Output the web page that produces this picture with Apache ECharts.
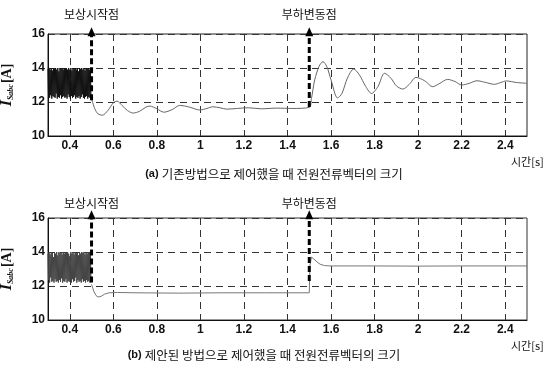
<!DOCTYPE html>
<html>
<head>
<meta charset="utf-8">
<script src="https://cdn.jsdelivr.net/npm/echarts@6/dist/echarts.min.js"></script>
<style>
  html, body { margin: 0; padding: 0; background: #fff; }
  #chart { width: 550px; height: 369px; }
</style>
</head>
<body>
<div id="chart"></div>
<script>
// Axis ranges and tick values
const xMin = 0.3, xMax = 2.5;
const xTicks = [0.4, 0.6, 0.8, 1, 1.2, 1.4, 1.6, 1.8, 2, 2.2, 2.4];
const yMin = 10, yMax = 16, yStep = 2;

// Switching ripple before compensation starts (sampled every rippleStep seconds from rippleStart)
const rippleStart = 0.3, rippleStep = 0.0025;
const rippleA = [13.95,12.3,14.0,12.25,13.9,12.4,14.0,12.2,13.85,12.35,
                 14.0,12.3,13.95,12.25,14.0,12.5,13.9,12.2,14.0,12.3,
                 13.8,12.25,14.0,12.4,13.95,12.2,14.0,12.3,13.9,12.35,
                 14.0,12.25,13.95,12.3,14.0,12.2,13.9,12.45,14.0,12.3,
                 13.9,12.2,14.0,12.35,13.85,12.25,14.0,12.3,13.95,12.4,
                 14.0,12.2,13.9,12.3,14.0,12.25,13.8,12.35,14.0,12.2,
                 13.95,12.3,14.0,12.45,13.9,12.25,14.0,12.2,13.85,12.3,
                 14.0,12.35,13.95,12.2,14.0,12.3,13.9,12.25,14.0,12.2];
const rippleB = [13.9,12.35,14.0,12.2,13.85,12.5,14.0,12.25,13.95,12.3,
                 13.7,12.2,14.0,12.4,13.9,12.25,14.0,12.3,13.8,12.2,
                 14.0,12.35,13.95,12.25,14.0,12.45,13.85,12.2,14.0,12.3,
                 13.9,12.25,14.0,12.4,13.95,12.2,14.0,12.3,13.9,12.25,
                 13.75,12.3,14.0,12.2,13.9,12.4,14.0,12.25,13.85,12.3,
                 14.0,12.5,13.95,12.2,14.0,12.35,13.8,12.25,14.0,12.3,
                 13.9,12.2,14.0,12.4,13.95,12.25,14.0,12.3,13.85,12.2,
                 14.0,12.35,13.9,12.25,14.0,12.3,13.95,12.2,14.0,12.25];

// (a) conventional control: current magnitude after compensation starts
const timeA = [0.5,0.515,0.53,0.55,0.575,0.6,0.617,0.64,0.665,0.69,0.72,0.75,0.768,0.8,0.832,0.87,0.905,0.95,0.997,1.03,
               1.057,1.09,1.12,1.17,1.22,1.28,1.35,1.42,1.5,1.51,1.525,1.545,1.563,1.58,1.6,1.63,1.65,1.675,1.704,1.73,
               1.76,1.786,1.815,1.846,1.875,1.9,1.93,1.96,1.99,2.03,2.067,2.1,2.135,2.17,2.2,2.235,2.27,2.31,2.35,2.38,
               2.405,2.45,2.5];
const valueA = [12.2,11.6,11.3,11.22,11.5,11.95,12.05,11.8,11.5,11.35,11.45,11.7,11.76,11.6,11.4,11.55,11.8,11.7,11.53,11.62,
                11.72,11.66,11.58,11.62,11.66,11.6,11.64,11.62,11.68,12.2,13.3,14.1,14.37,14.1,13.3,12.24,12.5,13.4,13.94,13.6,
                12.9,12.5,12.9,13.69,13.4,12.95,12.76,13.05,13.45,13.25,12.9,13.1,13.33,13.2,13.0,13.1,13.25,13.15,13.04,13.15,
                13.24,13.15,13.1];

// (b) proposed control
const timeB = [0.5,0.51,0.52,0.53,0.545,0.56,0.58,0.62,0.7,0.9,1.1,1.3,1.5,1.503,1.51,1.52,1.535,1.55,1.57,1.6,1.8,2.0,2.2,2.4,2.5];
const valueB = [12.1,11.7,11.45,11.35,11.4,11.52,11.6,11.62,11.6,11.58,11.6,11.6,11.6,13.2,13.7,13.6,13.42,13.28,13.2,13.18,
                13.18,13.17,13.18,13.18,13.18];

// Event markers: [time, start value, arrow-tip value, label index]
const eventNames = ['보상시작점', '부하변동점'];
const eventsA = [[0.5, 12.1, 16.4, 0], [1.5, 11.7, 16.4, 1]];
const eventsB = [[0.5, 12.2, 16.45, 0], [1.5, 12.3, 16.45, 1]];

const captions = ['(a) ', '기존방법으로 제어했을 때 전원전류벡터의 크기', '(b) ', '제안된 방법으로 제어했을 때 전원전류벡터의 크기'];
const xName = '시간[s]';

const KR = '"Noto Sans CJK KR", "Noto Sans", sans-serif';
const LAT = '"Liberation Sans", Arial, sans-serif';

const pairs = (ts, vs) => ts.map((t, i) => [t, vs[i]]);
const ripplePoints = vs => vs.map((v, i) => [+(rippleStart + i * rippleStep).toFixed(4), v]);

function xAxisFor(gridIndex) {
  return {
    type: 'value', gridIndex, min: xMin, max: xMax,
    name: xName, nameLocation: 'end', nameGap: -16,
    nameTextStyle: { fontFamily: KR, fontSize: 11, color: '#111', align: 'left', verticalAlign: 'top', padding: [20, 0, 0, 0] },
    axisLine: { show: true, lineStyle: { color: '#111', width: 1 } },
    axisTick: { show: false, customValues: xTicks },
    axisLabel: { customValues: xTicks, color: '#111', fontFamily: LAT, fontWeight: 'bold', fontSize: 12, margin: 4 },
    splitLine: { show: true, lineStyle: { color: '#333', width: 1, type: [7, 5] } }
  };
}

function yAxisFor(gridIndex) {
  return {
    type: 'value', gridIndex, min: yMin, max: yMax, interval: yStep,
    name: '{i|I}{s|Sabc}{u|[A]}', nameLocation: 'middle', nameGap: 33,
    nameTextStyle: {
      rich: {
        i: { fontFamily: '"Liberation Serif", serif', fontStyle: 'italic', fontWeight: 'bold', fontSize: 16, color: '#111' },
        s: { fontFamily: '"Liberation Serif", serif', fontStyle: 'italic', fontWeight: 'bold', fontSize: 8, color: '#111', verticalAlign: 'bottom', padding: [6, 1, 0, 0] },
        u: { fontFamily: '"Liberation Serif", serif', fontWeight: 'bold', fontSize: 14, color: '#111' }
      }
    },
    axisLine: { show: true, lineStyle: { color: '#111', width: 1 } },
    axisTick: { show: false },
    axisLabel: { color: '#111', fontFamily: LAT, fontWeight: 'bold', fontSize: 12, margin: 3 },
    splitLine: { show: true, lineStyle: { color: '#333', width: 1, type: [7, 5] } }
  };
}

// Dashed event arrows with their labels, placed through the axis scales
function eventSeries(gridIndex, events, labelGap) {
  return {
    type: 'custom', xAxisIndex: gridIndex, yAxisIndex: gridIndex, clip: false, silent: true, z: 5,
    data: events,
    renderItem: (params, api) => {
      const p0 = api.coord([api.value(0), api.value(1)]);
      const p1 = api.coord([api.value(0), api.value(2)]);
      const name = eventNames[api.value(3)];
      return {
        type: 'group',
        children: [
          { type: 'line', shape: { x1: p0[0], y1: p0[1], x2: p1[0], y2: p1[1] + 8 },
            style: { stroke: '#000', lineWidth: 3, lineDash: [6, 3] } },
          { type: 'polygon', shape: { points: [[p1[0], p1[1]], [p1[0] - 4, p1[1] + 9], [p1[0] + 4, p1[1] + 9]] },
            style: { fill: '#000' } },
          { type: 'text', style: { text: name, x: p1[0], y: p1[1] - labelGap, align: 'center', verticalAlign: 'bottom',
            font: '12px ' + KR, fill: '#111' } }
        ]
      };
    }
  };
}

const chart = echarts.init(document.getElementById('chart'), null, { renderer: 'canvas' });
chart.setOption({
  animation: false,
  backgroundColor: '#fff',
  grid: [
    { left: 48, top: 34, width: 479, height: 102, outerBoundsMode: 'none', containLabel: false,
      show: true, borderColor: '#222', borderWidth: 1, backgroundColor: 'transparent' },
    { left: 48, top: 218, width: 479, height: 102, outerBoundsMode: 'none', containLabel: false,
      show: true, borderColor: '#333', borderWidth: 1, backgroundColor: 'transparent' }
  ],
  xAxis: [xAxisFor(0), xAxisFor(1)],
  yAxis: [yAxisFor(0), yAxisFor(1)],
  graphic: [
    { type: 'text', x: 274, y: 174, style: { text: '{b|' + captions[0] + '}{k|' + captions[1] + '}', align: 'center', verticalAlign: 'middle',
      rich: { b: { fontFamily: LAT, fontWeight: 'bold', fontSize: 11, fill: '#111' }, k: { fontFamily: KR, fontSize: 12.5, fill: '#111' } } } },
    { type: 'text', x: 264, y: 355, style: { text: '{b|' + captions[2] + '}{k|' + captions[3] + '}', align: 'center', verticalAlign: 'middle',
      rich: { b: { fontFamily: LAT, fontWeight: 'bold', fontSize: 11, fill: '#111' }, k: { fontFamily: KR, fontSize: 12.5, fill: '#111' } } } }
  ],
  series: [
    { type: 'line', xAxisIndex: 0, yAxisIndex: 0, data: ripplePoints(rippleA), showSymbol: false, symbol: 'none',
      lineStyle: { color: '#111', width: 1 } },
    { type: 'line', xAxisIndex: 0, yAxisIndex: 0, data: pairs(timeA, valueA), showSymbol: false, symbol: 'none', smooth: 0.3,
      lineStyle: { color: '#666', width: 1 } },
    { type: 'line', xAxisIndex: 1, yAxisIndex: 1, data: ripplePoints(rippleB), showSymbol: false, symbol: 'none',
      lineStyle: { color: '#444', width: 1 } },
    { type: 'line', xAxisIndex: 1, yAxisIndex: 1, data: pairs(timeB, valueB), showSymbol: false, symbol: 'none',
      lineStyle: { color: '#777', width: 1 } },
    eventSeries(0, eventsA, 7),
    eventSeries(1, eventsB, 1)
  ]
});
</script>
</body>
</html>
